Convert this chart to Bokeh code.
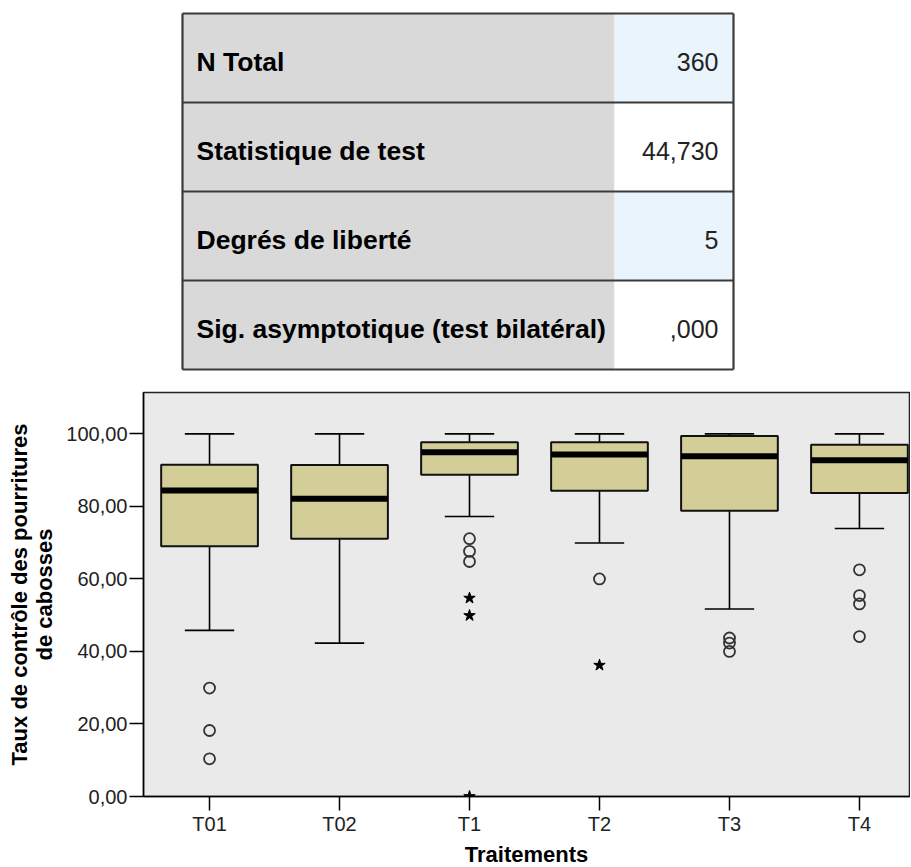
from bokeh.plotting import figure
from bokeh.layouts import column
from bokeh.models import Range1d, FixedTicker, ColumnDataSource
from bokeh.core.properties import value
from bokeh.embed import file_html
from bokeh.resources import INLINE
import numpy as np

# ---------------- data ----------------
stat_labels = ["N Total", "Statistique de test", "Degrés de liberté",
               "Sig. asymptotique (test bilatéral)"]
stat_values = ["360", "44,730", "5", ",000"]

treatments = ["T01", "T02", "T1", "T2", "T3", "T4"]
whisker_high = [100.0, 100.0, 100.0, 100.0, 100.0, 100.0]
q3 = [91.5, 91.4, 97.7, 97.7, 99.4, 97.0]
median = [84.4, 82.1, 94.9, 94.3, 93.8, 92.7]
q1 = [69.0, 71.1, 88.7, 84.3, 78.8, 83.7]
whisker_low = [45.8, 42.3, 77.2, 69.9, 51.7, 73.9]

outlier_group = ["T01", "T01", "T01", "T1", "T1", "T1", "T2",
                 "T3", "T3", "T3", "T4", "T4", "T4", "T4"]
outlier_value = [29.9, 18.2, 10.4, 71.1, 67.6, 64.8, 60.0,
                 43.7, 42.3, 40.0, 62.5, 55.4, 53.1, 44.1]
extreme_group = ["T1", "T1", "T1", "T2"]
extreme_value = [54.7, 49.9, 0.0, 36.2]

y_ticks = [0, 20, 40, 60, 80, 100]

FONT = "Liberation Sans"
ORIGIN = 1      # where the layout starts on the screenshot
LEFT = 143      # frame left offset inside each figure
FRAME_W = 766

# ---------------- table ----------------
tp = figure(frame_width=FRAME_W, frame_height=380 - ORIGIN,
            x_range=Range1d(ORIGIN + LEFT, ORIGIN + LEFT + FRAME_W),
            y_range=Range1d(380, ORIGIN),
            output_backend="svg", toolbar_location=None,
            min_border_left=LEFT, min_border_right=1, min_border_top=0, min_border_bottom=0)
tp.axis.visible = False
tp.grid.visible = False
tp.outline_line_color = None
tp.background_fill_color = "white"
tp.border_fill_color = "white"

n = len(stat_labels)
row_h = 89.0
t_top = 14.0
t_left, t_mid, t_right = 183.0, 615.0, 734.0
rows = np.arange(n)
tops = t_top + rows * row_h
bottoms = tops + row_h
centers = tops + row_h / 2

tp.quad(left=t_left, right=t_mid, top=tops, bottom=bottoms,
        fill_color="#d9d9da", line_color=None)
tp.quad(left=t_mid, right=t_right, top=tops, bottom=bottoms,
        fill_color=["#eaf4fd" if i % 2 == 0 else "white" for i in range(n)],
        line_color=None)
hl = t_top + np.arange(n + 1) * row_h
tp.segment(x0=t_left, x1=t_right, y0=hl, y1=hl, line_color="#3a3a3a", line_width=2.2)
tp.segment(x0=[t_left, t_right], x1=[t_left, t_right], y0=t_top, y1=t_top + n * row_h,
           line_color="#3a3a3a", line_width=2.2)

tp.text(x=197, y=centers + 4, text=stat_labels, text_font=value(FONT),
        text_font_size="26.5px", text_font_style="bold", text_color="black",
        text_baseline="middle", text_align="left")
tp.text(x=719, y=centers + 4, text=stat_values, text_font=value(FONT),
        text_font_size="25px", text_color="#222222",
        text_baseline="middle", text_align="right")

# ---------------- box plot ----------------
idx = np.arange(len(treatments))
pos = {t: i for i, t in enumerate(treatments)}

p = figure(frame_width=FRAME_W, frame_height=404,
           x_range=Range1d(-0.508, 5.385), y_range=Range1d(0, 111.4),
           output_backend="svg", toolbar_location=None,
           min_border_left=LEFT, min_border_top=13, min_border_right=1,
           min_border_bottom=0)
p.background_fill_color = "#eaeaea"
p.border_fill_color = "white"
p.outline_line_color = "#222222"
p.outline_line_width = 1.5
p.grid.visible = False

src = ColumnDataSource(dict(x=idx, hi=whisker_high, q3=q3, med=median, q1=q1, lo=whisker_low))

box_w = 0.744
cap_w = 0.38
p.segment(x0="x", x1="x", y0="q3", y1="hi", source=src, line_color="black", line_width=1.6)
p.segment(x0="x", x1="x", y0="lo", y1="q1", source=src, line_color="black", line_width=1.6)
p.segment(x0=idx - cap_w / 2, x1=idx + cap_w / 2, y0=whisker_high, y1=whisker_high,
          line_color="black", line_width=1.6)
p.segment(x0=idx - cap_w / 2, x1=idx + cap_w / 2, y0=whisker_low, y1=whisker_low,
          line_color="black", line_width=1.6)
p.vbar(x="x", width=box_w, top="q3", bottom="q1", source=src,
       fill_color="#d3ce97", line_color="#111111", line_width=2)
p.segment(x0=idx - box_w / 2, x1=idx + box_w / 2, y0=median, y1=median,
          line_color="black", line_width=6, line_cap="butt")

p.scatter(x=[pos[g] for g in outlier_group], y=outlier_value, marker="circle", size=11,
          fill_color=None, line_color="#333333", line_width=1.8)
p.scatter(x=[pos[g] for g in extreme_group], y=extreme_value, marker="star", size=12,
          fill_color="black", line_color="black", line_width=1)

p.xaxis.ticker = FixedTicker(ticks=list(idx))
p.xaxis.major_label_overrides = {int(i): t for i, t in enumerate(treatments)}
p.yaxis.ticker = FixedTicker(ticks=y_ticks)
p.yaxis.major_label_overrides = {t: f"{t:.2f}".replace(".", ",") for t in y_ticks}

for ax in (p.xaxis, p.yaxis):
    ax.minor_tick_line_color = None
    ax.major_tick_in = 0
    ax.major_tick_out = 14
    ax.major_tick_line_width = 1.5
    ax.major_tick_line_color = "black"
    ax.axis_line_width = 1.5
    ax.axis_line_color = "black"
    ax.major_label_text_font = FONT
    ax.major_label_text_font_size = "20px"
    ax.major_label_text_color = "#222222"
    ax.major_label_standoff = 2
    ax.axis_label_text_font = FONT
    ax.axis_label_text_font_style = "bold"
    ax.axis_label_text_color = "black"
    ax.axis_label_text_font_size = "22px"
    ax.axis_label_text_line_height = 1.0

p.yaxis.axis_label = "Taux de contrôle des pourritures\nde cabosses"
p.yaxis.axis_label_standoff = 6
p.xaxis.axis_label = "Traitements"
p.xaxis.major_label_standoff = 2
p.xaxis.axis_label_standoff = 4

layout = column(tp, p, spacing=0)
open("out.html", "w").write(file_html(layout, INLINE))
